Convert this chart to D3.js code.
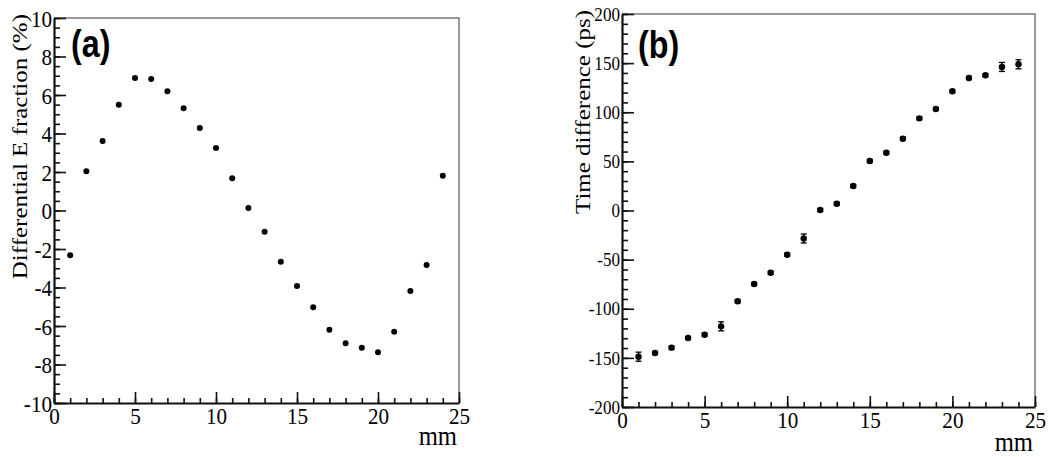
<!DOCTYPE html>
<html>
<head>
<meta charset="utf-8">
<script src="https://cdn.jsdelivr.net/npm/d3@7"></script>
<style>
  html, body { margin: 0; padding: 0; background: #fff; }
  svg { display: block; }
</style>
</head>
<body>
<svg id="chart" width="1050" height="457"></svg>
<script>
// ---------------- data ----------------
const positionsMM = [1,2,3,4,5,6,7,8,9,10,11,12,13,14,15,16,17,18,19,20,21,22,23,24];
const diffEFraction = [-2.33, 2.04, 3.61, 5.50, 6.88, 6.83, 6.19, 5.31, 4.29, 3.25, 1.67, 0.13,
                       -1.10, -2.66, -3.92, -5.03, -6.19, -6.90, -7.13, -7.37, -6.30, -4.18, -2.83, 1.81];
const timeDiffPs = [-148.8, -145.0, -139.6, -129.8, -126.4, -117.9, -92.4, -74.8, -63.3, -45.0, -28.5, 0.5,
                    6.9, 24.9, 50.4, 58.8, 73.1, 93.8, 103.3, 121.3, 134.9, 137.6, 146.1, 148.8];
const timeErrPs = [4.6, 1.5, 1.5, 1.5, 1.5, 4.6, 1.5, 1.5, 1.5, 1.5, 4.6, 1.5,
                   1.5, 1.5, 1.5, 1.5, 1.5, 1.5, 1.5, 1.5, 1.5, 1.5, 4.6, 4.6];

const xMajorTicks = [0, 5, 10, 15, 20, 25];
const xMinorTicks = d3.range(0, 26, 1);
const yMajorTicksA = [-10, -8, -6, -4, -2, 0, 2, 4, 6, 8, 10];
const yMinorTicksA = d3.range(-10, 10.01, 0.5);
const yMajorTicksB = [-200, -150, -100, -50, 0, 50, 100, 150, 200];
const yMinorTicksB = d3.range(-200, 201, 10);

const svg = d3.select("#chart");
const SX = 0.88; // horizontal squeeze of the original figure
const SERIF = '"Liberation Serif", "Times New Roman", serif';
const SANS = '"Liberation Sans", Arial, sans-serif';
const fmt = d => String(d); // plain hyphen minus like the original

function panel(cfg) {
  const x = d3.scaleLinear().domain([0, 25]).range([cfg.left, cfg.right]);
  const y = d3.scaleLinear().domain(cfg.yDomain).range([cfg.bottom, cfg.top]);
  const g = svg.append("g");

  // frame (top/right gray)
  g.append("path")
    .attr("d", `M${cfg.left},${cfg.top}H${cfg.right}V${cfg.bottom}`)
    .attr("fill", "none").attr("stroke", "#777").attr("stroke-width", 1.5);

  // minor ticks
  g.append("g").attr("transform", `translate(0,${cfg.bottom})`)
    .call(d3.axisBottom(x).tickValues(xMinorTicks).tickSize(-5).tickSizeOuter(0).tickFormat(""))
    .call(s => s.select(".domain").remove());
  g.append("g").attr("transform", `translate(${cfg.left},0)`)
    .call(d3.axisLeft(y).tickValues(cfg.yMinor).tickSize(-6).tickSizeOuter(0).tickFormat(""))
    .call(s => s.select(".domain").remove());
  // major ticks + domain
  g.append("g").attr("transform", `translate(0,${cfg.bottom})`)
    .call(d3.axisBottom(x).tickValues(xMajorTicks).tickSize(-11).tickSizeOuter(0).tickFormat(""));
  g.append("g").attr("transform", `translate(${cfg.left},0)`)
    .call(d3.axisLeft(y).tickValues(cfg.yMajor).tickSize(-12).tickSizeOuter(0).tickFormat(""));

  g.selectAll(".tick line").attr("stroke", "#111").attr("stroke-width", 1.6);
  g.selectAll(".domain").attr("stroke", "#111").attr("stroke-width", 2.2);

  // tick labels
  const xl = g.append("g").attr("transform", `translate(0,${cfg.bottom})`)
    .call(d3.axisBottom(x).tickValues(xMajorTicks).tickSize(0).tickPadding(4).tickFormat(fmt));
  xl.select(".domain").remove();
  xl.selectAll("text").style("font-family", SERIF).style("font-size", "24px")
    .attr("fill", "#000").attr("transform", `scale(${SX},1)`);
  const yl = g.append("g").attr("transform", `translate(${cfg.left - 2},0)`)
    .call(d3.axisLeft(y).tickValues(cfg.yMajor).tickSize(0).tickPadding(0).tickFormat(fmt));
  yl.select(".domain").remove();
  yl.selectAll("text").style("font-family", SERIF).style("font-size", cfg.yFont + "px")
    .attr("fill", "#000").attr("dy", "0.34em").attr("transform", `scale(${cfg.ySX},1)`);

  // axis titles
  g.append("text")
    .attr("transform", `translate(${cfg.right - 2},${cfg.bottom + cfg.mmDy}) scale(${SX},1)`)
    .attr("text-anchor", "end").style("font-family", SERIF).style("font-size", "28px")
    .attr("fill", "#000").text("mm");
  g.append("text")
    .attr("transform", `translate(${cfg.yTitleX},${cfg.top - 4}) rotate(-90) scale(1,${SX})`)
    .attr("text-anchor", "end").style("font-family", SERIF).style("font-size", "25px")
    .attr("fill", "#000").text(cfg.yTitle);

  // panel tag
  g.append("text")
    .attr("transform", `translate(${cfg.left + cfg.tagDx},${cfg.top + cfg.tagDy}) scale(0.85,1)`)
    .style("font-family", SANS).style("font-weight", "bold").style("font-size", "38px")
    .attr("fill", "#000").text(cfg.tag);

  return {x, y, g};
}

// ---------- panel (a) ----------
const A = panel({left: 54, right: 459, top: 18, bottom: 403, yDomain: [-10, 10],
  yMajor: yMajorTicksA, yMinor: yMinorTicksA, yTitle: "Differential E fraction (%)",
  yFont: 24, ySX: SX,
  yTitleX: 27, mmDy: 42, tag: "(a)", tagDx: 17, tagDy: 39});
A.g.append("g").selectAll("circle").data(positionsMM).join("circle")
  .attr("cx", (d) => A.x(d))
  .attr("cy", (d, i) => A.y(diffEFraction[i]))
  .attr("r", 3).attr("fill", "#000");

// ---------- panel (b) ----------
const B = panel({left: 622, right: 1035, top: 14, bottom: 407, yDomain: [-200, 200],
  yMajor: yMajorTicksB, yMinor: yMinorTicksB, yTitle: "Time difference (ps)",
  yFont: 18, ySX: 0.95,
  yTitleX: 590, mmDy: 44, tag: "(b)", tagDx: 16, tagDy: 44});
const eb = B.g.append("g").selectAll("g").data(positionsMM).join("g");
eb.append("line")
  .attr("x1", d => B.x(d)).attr("x2", d => B.x(d))
  .attr("y1", (d, i) => B.y(timeDiffPs[i] - timeErrPs[i]))
  .attr("y2", (d, i) => B.y(timeDiffPs[i] + timeErrPs[i]))
  .attr("stroke", "#000").attr("stroke-width", 1.5);
[-1, 1].forEach(sgn => {
  eb.append("line")
    .attr("x1", d => B.x(d) - 3).attr("x2", d => B.x(d) + 3)
    .attr("y1", (d, i) => B.y(timeDiffPs[i] + sgn * timeErrPs[i]))
    .attr("y2", (d, i) => B.y(timeDiffPs[i] + sgn * timeErrPs[i]))
    .attr("stroke", "#000").attr("stroke-width", 1.3);
});
eb.append("circle")
  .attr("cx", d => B.x(d))
  .attr("cy", (d, i) => B.y(timeDiffPs[i]))
  .attr("r", 3.2).attr("fill", "#000");
</script>
</body>
</html>
